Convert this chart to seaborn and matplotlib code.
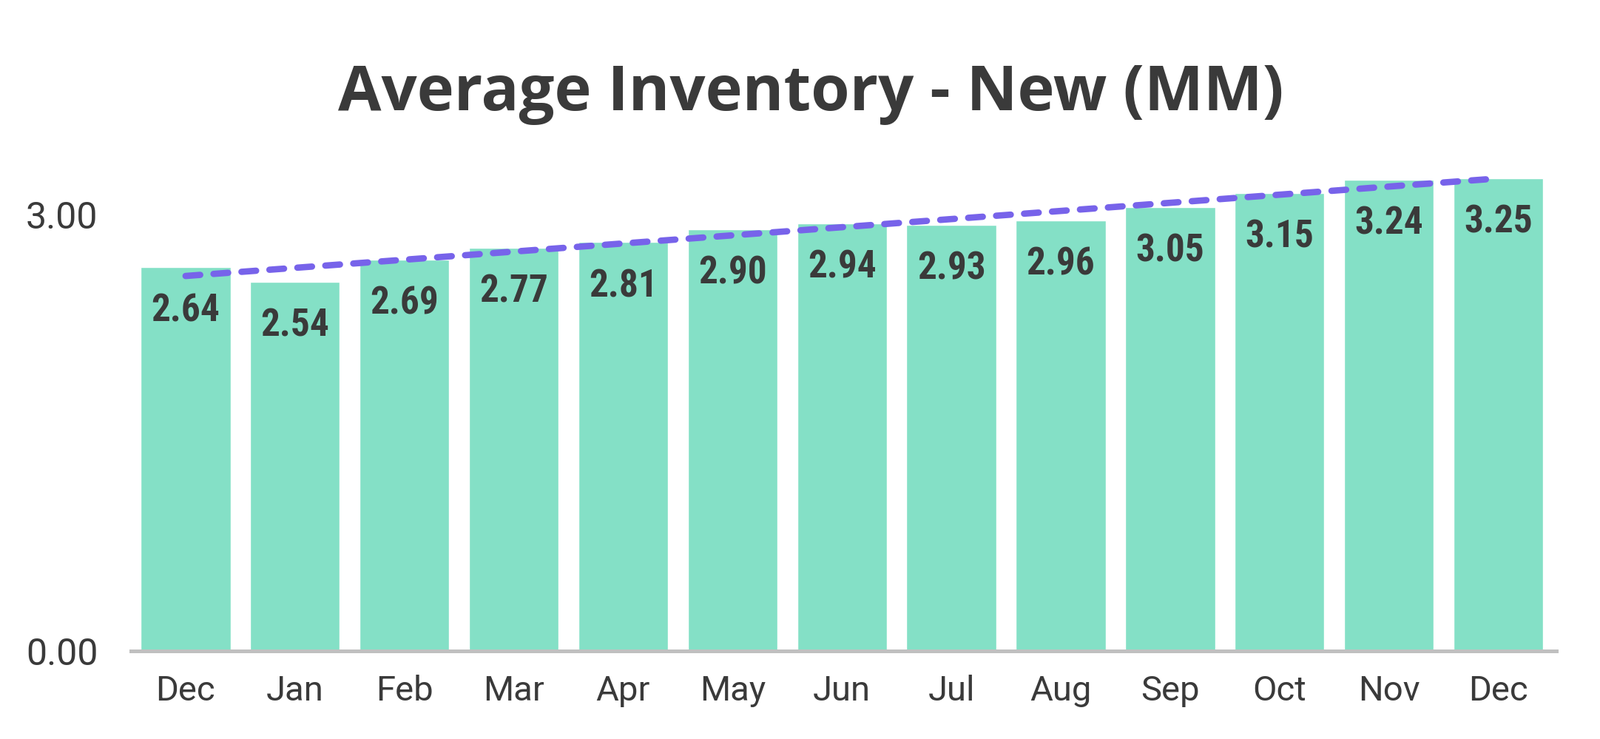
import seaborn as sns
import matplotlib.pyplot as plt
import numpy as np
import pandas as pd

months = ["Dec", "Jan", "Feb", "Mar", "Apr", "May", "Jun",
          "Jul", "Aug", "Sep", "Oct", "Nov", "Dec"]
inventory = [2.64, 2.54, 2.69, 2.77, 2.81, 2.90, 2.94,
             2.93, 2.96, 3.05, 3.15, 3.24, 3.25]
y_ticks = [0, 3]

bar_color = "#84e0c6"
line_color = "#7763ea"
text_color = "#3a3a3a"

sns.set_style("white")
plt.rcParams['font.family'] = ['Roboto', 'DejaVu Sans']

df = pd.DataFrame({"pos": np.arange(len(months)), "value": inventory})

fig = plt.figure(figsize=(21.63, 9.99), dpi=100)
ax = fig.add_axes([0.0818, 0.1191, 0.8909, 0.689])

sns.barplot(x="pos", y="value", data=df, color=bar_color, width=0.82,
            saturation=1, ax=ax)

# linear trend line
sns.regplot(x="pos", y="value", data=df, scatter=False, ci=None, ax=ax,
            line_kws={"color": line_color, "linewidth": 6.2,
                      "linestyle": (0, (2.3, 2.1)),
                      "dash_capstyle": "round"})

for i, v in enumerate(inventory):
    ax.annotate(f"{v:.2f}", xy=(i, v), xytext=(0, -25), textcoords="offset points",
                ha="center", va="top", fontsize=37, fontweight="bold",
                fontstretch="condensed", color=text_color,
                family=['Roboto Condensed', 'Liberation Sans Narrow', 'DejaVu Sans'])

ax.set_xlim(-0.5, 12.53)
ax.set_ylim(0, 3.5)
ax.set_xticks(np.arange(len(months)))
ax.set_xticklabels(months)
ax.set_yticks(y_ticks)
ax.set_yticklabels([f"{t:.2f}" for t in y_ticks])
ax.set_xlabel("")
ax.set_ylabel("")

ax.tick_params(axis="x", length=0, pad=23, labelsize=34, labelcolor=text_color)
ax.tick_params(axis="y", length=0, pad=32, labelsize=36, labelcolor=text_color)

for s in ["left", "top", "right"]:
    ax.spines[s].set_visible(False)
ax.spines["bottom"].set_color("#c0c0c0")
ax.spines["bottom"].set_linewidth(3.6)

fig.text(0.507, 0.873, "Average Inventory - New (MM)", ha="center", va="center",
         fontsize=61, fontweight="bold", color=text_color,
         family=['Open Sans', 'Roboto'])

fig.savefig("out.png", dpi=100)
